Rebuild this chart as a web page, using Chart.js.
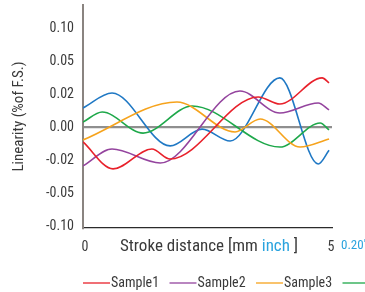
<!DOCTYPE html>
<html>
<head>
<meta charset="utf-8">
<script src="https://cdn.jsdelivr.net/npm/chart.js@4"></script>
<style>
  html, body { margin: 0; padding: 0; background: #fff; overflow: hidden; }
  #wrap { width: 365px; height: 292px; position: relative; }
</style>
</head>
<body>
<div id="wrap"><canvas id="chart" width="365" height="292"></canvas></div>
<script>
const FONT = '"Liberation Sans Narrow", "Roboto Condensed", Roboto, sans-serif';

// y axis is not linear: these tick values sit at equal steps
const yTickValues = [-0.10, -0.05, -0.02, 0.00, 0.02, 0.05, 0.10];
const yTickLabels = ['-0.10', '-0.05', '-0.02', '0.00', '0.02', '0.05', '0.10'];
const xTicks = [0, 5];

const seriesNames = ['Sample1', 'Sample2', 'Sample3', 'Sample4', 'Sample5'];
const seriesColors = ['#e8212b', '#94449e', '#f6a31c', '#1ea84a', '#1f78c4'];

// stroke distance [mm] / linearity [% of F.S.]
const sample1X = [0, 0.61, 1.40, 1.77, 3.56, 4.00, 4.86, 5.0];
const sample1Y = [-0.0088, -0.0278, -0.0131, -0.0192, 0.0186, 0.0143, 0.0353, 0.0307];
const sample2X = [0, 0.59, 1.57, 3.19, 4.00, 4.78, 5.0];
const sample2Y = [-0.0251, -0.0131, -0.0224, 0.0233, 0.0088, 0.0149, 0.0107];
const sample3X = [0, 1.91, 3.09, 3.60, 4.41, 5.0];
const sample3Y = [-0.0076, 0.0155, -0.0027, 0.0052, -0.0119, -0.0070];
const sample4X = [0, 0.39, 1.22, 2.22, 4.00, 4.82, 5.0];
const sample4Y = [0.0033, 0.0094, -0.0034, 0.0131, -0.0119, 0.0027, -0.0015];
const sample5X = [0, 0.59, 1.77, 2.42, 2.99, 4.00, 4.78, 5.0];
const sample5Y = [0.0119, 0.0215, -0.0112, -0.0010, -0.0082, 0.0353, -0.0233, -0.0138];

// map a linearity value to its position on the stepped axis
function toPos(v) {
    for (let i = 0; i < yTickValues.length - 1; i++) {
        const a = yTickValues[i], b = yTickValues[i + 1];
        if (v <= b || i === yTickValues.length - 2) {
            return i - 3 + (v - a) / (b - a);
        }
    }
}

function points(xs, ys) {
    return xs.map((x, i) => ({ x: x, y: toPos(ys[i]) }));
}

const allX = [sample1X, sample2X, sample3X, sample4X, sample5X];
const allY = [sample1Y, sample2Y, sample3Y, sample4Y, sample5Y];

const datasets = seriesNames.map((name, i) => ({
    label: name,
    data: points(allX[i], allY[i]),
    borderColor: seriesColors[i],
    borderWidth: 1.6,
    pointRadius: 0,
    fill: false,
    cubicInterpolationMode: 'monotone'
}));

// texts under the plot: axis title with coloured unit, inch tick, legend
const bottomTexts = {
    id: 'bottomTexts',
    afterDraw(chart) {
        const ctx = chart.ctx;
        ctx.save();
        ctx.textBaseline = 'middle';
        ctx.textAlign = 'left';

        ctx.font = '17px ' + FONT;
        let x = 120;
        const y = 247;
        const parts = [['Stroke distance [mm ', '#3a3a3a'], ['inch', '#2aa3de'], [' ]', '#3a3a3a']];
        parts.forEach(p => {
            ctx.fillStyle = p[1];
            ctx.fillText(p[0], x, y);
            x += ctx.measureText(p[0]).width;
        });

        ctx.font = '13px ' + FONT;
        ctx.fillStyle = '#2aa3de';
        ctx.fillText("0.20''", 341, 246);

        // legend
        ctx.font = '14px ' + FONT;
        let lx = 83;
        const ly = 283;
        chart.data.datasets.forEach(ds => {
            ctx.strokeStyle = ds.borderColor;
            ctx.lineWidth = 1.3;
            ctx.beginPath();
            ctx.moveTo(lx, ly);
            ctx.lineTo(lx + 27, ly);
            ctx.stroke();
            ctx.fillStyle = '#3a3a3a';
            ctx.fillText(ds.label, lx + 28, ly);
            lx += 86.5;
        });
        ctx.restore();
    }
};

new Chart(document.getElementById('chart'), {
    type: 'line',
    data: { datasets: datasets },
    options: {
        responsive: false,
        animation: false,
        events: [],
        layout: { padding: { left: 0, right: 33, top: 5, bottom: 0 } },
        plugins: {
            legend: { display: false },
            tooltip: { enabled: false }
        },
        scales: {
            x: {
                type: 'linear',
                min: 0,
                max: 5.06,
                afterBuildTicks: axis => { axis.ticks = xTicks.map(v => ({ value: v })); },
                afterFit: axis => {
                    axis.height = 64;
                    axis.paddingLeft = 0;
                    axis.paddingRight = 0;
                },
                grid: { display: false, drawTicks: false },
                border: { display: true, color: '#2b2b2b', width: 1.3 },
                ticks: {
                    color: '#3a3a3a',
                    font: { family: FONT, size: 14 },
                    padding: 11,
                    labelOffset: 2,
                    maxRotation: 0,
                    callback: v => String(v)
                }
            },
            y: {
                type: 'linear',
                min: -3.06,
                max: 3.73,
                afterBuildTicks: axis => { axis.ticks = yTickLabels.map((t, i) => ({ value: i - 3 })); },
                afterFit: axis => {
                    axis.width = 83;
                    axis.paddingTop = 0;
                    axis.paddingBottom = 0;
                },
                grid: {
                    drawTicks: false,
                    color: c => (c.tick && c.tick.value === 0) ? '#8f8f8f' : 'rgba(0,0,0,0)',
                    lineWidth: 2.2
                },
                border: { display: true, color: '#8a8480', width: 2 },
                ticks: {
                    color: '#3a3a3a',
                    font: { family: FONT, size: 14 },
                    padding: 9,
                    callback: v => yTickLabels[Math.round(v) + 3]
                },
                title: {
                    display: true,
                    text: 'Linearity (%of F.S.)',
                    color: '#3a3a3a',
                    font: { family: FONT, size: 15 },
                    padding: { top: 10, bottom: 0 }
                }
            }
        }
    },
    plugins: [bottomTexts]
});
</script>
</body>
</html>
